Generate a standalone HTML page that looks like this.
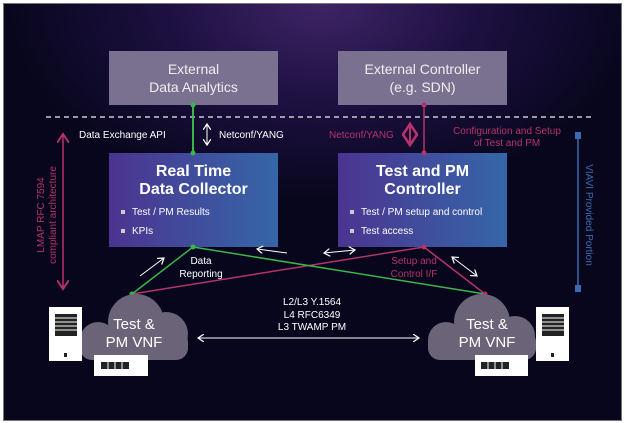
<!DOCTYPE html><html><head><style>
body{margin:0;background:#fff;width:625px;height:423px;overflow:hidden;font-family:"Liberation Sans",sans-serif}
#f{position:absolute;left:3px;top:3px;width:617px;height:416px;background:radial-gradient(ellipse 320px 200px at 318px 0px,#3e2466 0%,#1c1040 50%,#07061c 100%);border:1px solid #777;}
.b{position:absolute;text-align:center;color:#fff}
.ext{background:#7a7090;color:#eee;font-size:14px;line-height:18px;padding-top:9px;box-sizing:border-box}
.blue{background:linear-gradient(90deg,#4b3490,#3566a8);box-sizing:border-box}
.t{font-weight:bold;font-size:16px;line-height:18px;padding-top:10px}
.li{position:absolute;left:12px;font-size:10px;text-align:left}
.li:before{content:"";display:inline-block;width:4px;height:4px;background:#ccc;margin-right:7px;vertical-align:1px}
.s{position:absolute;font-size:10px;color:#fff;white-space:nowrap}
.p{color:#b5336a}
</style></head><body>
<div id="f"></div>
<div class="b ext" style="left:109px;top:51px;width:169px;height:54px">External<br>Data Analytics</div>
<div class="b ext" style="left:338px;top:51px;width:169px;height:54px">External Controller<br>(e.g. SDN)</div>
<div class="b blue" style="left:109px;top:153px;width:169px;height:94px"><div class="t">Real Time<br>Data Collector</div><div class="li" style="top:54px">Test / PM Results</div><div class="li" style="top:73px">KPIs</div></div>
<div class="b blue" style="left:338px;top:153px;width:169px;height:94px"><div class="t">Test and PM<br>Controller</div><div class="li" style="top:54px">Test / PM setup and control</div><div class="li" style="top:73px">Test access</div></div>
<svg width="625" height="423" style="position:absolute;left:0;top:0">
<defs><marker id="w" markerWidth="8" markerHeight="8" refX="6" refY="4" orient="auto-start-reverse"><path d="M0,0L6,4L0,8" fill="none" stroke="#fff" stroke-width="1.2"/></marker>
<marker id="pk" markerWidth="8" markerHeight="8" refX="6" refY="4" orient="auto-start-reverse"><path d="M0,0L6,4L0,8" fill="none" stroke="#b5336a" stroke-width="1.3"/></marker></defs>
<line x1="46" y1="117" x2="592" y2="117" stroke="#ccc" stroke-width="1.5" stroke-dasharray="5,4"/>
<line x1="193" y1="105" x2="193" y2="153" stroke="#3ab54a" stroke-width="2"/>
<line x1="424" y1="105" x2="424" y2="153" stroke="#b5336a" stroke-width="1.5"/>
<circle cx="193" cy="105" r="2.5" fill="#3ab54a"/><circle cx="193" cy="153" r="2.5" fill="#3ab54a"/>
<circle cx="424" cy="105" r="2.5" fill="#b5336a"/><circle cx="424" cy="153" r="2.5" fill="#b5336a"/>
<line x1="207" y1="124" x2="207" y2="145" stroke="#fff" marker-start="url(#w)" marker-end="url(#w)"/>
<line x1="410" y1="124" x2="410" y2="145" stroke="#b5336a" stroke-width="2" marker-start="url(#pk)" marker-end="url(#pk)"/>
<line x1="63" y1="134" x2="63" y2="289" stroke="#b5336a" stroke-width="1.5" marker-start="url(#pk)" marker-end="url(#pk)"/>
<line x1="578" y1="135" x2="578" y2="288" stroke="#3a6ab0" stroke-width="1.5"/>
<rect x="575" y="132" width="6" height="7" fill="#3a6ab0"/><rect x="575" y="285" width="6" height="7" fill="#3a6ab0"/>
<line x1="424" y1="247" x2="132" y2="294" stroke="#b5336a" stroke-width="1.5"/>
<line x1="424" y1="247" x2="485" y2="294" stroke="#b5336a" stroke-width="1.5"/>
<line x1="193" y1="247" x2="132" y2="294" stroke="#3ab54a" stroke-width="1.5"/>
<line x1="193" y1="247" x2="485" y2="294" stroke="#3ab54a" stroke-width="1.5"/>
<circle cx="193" cy="247" r="2.5" fill="#3ab54a"/><circle cx="132" cy="294" r="2.5" fill="#3ab54a"/>
<circle cx="424" cy="247" r="2.5" fill="#b5336a"/><circle cx="485" cy="294" r="2.5" fill="#b5336a"/>
<line x1="140" y1="276" x2="164" y2="258" stroke="#fff" marker-end="url(#w)"/>
<line x1="287" y1="253" x2="257" y2="249" stroke="#fff" marker-end="url(#w)"/>
<line x1="324" y1="253" x2="355" y2="250" stroke="#fff" marker-start="url(#w)" marker-end="url(#w)"/>
<line x1="452" y1="257" x2="477" y2="276" stroke="#fff" marker-start="url(#w)" marker-end="url(#w)"/>
<line x1="198" y1="338" x2="419" y2="338" stroke="#fff" marker-start="url(#w)" marker-end="url(#w)"/>
<g fill="#6b6478">
<circle cx="136" cy="322" r="28"/><circle cx="98" cy="340" r="18"/><circle cx="166" cy="334" r="22"/><rect x="80" y="330" width="108" height="30" rx="12"/>
<circle cx="482" cy="322" r="28"/><circle cx="446" cy="340" r="18"/><circle cx="515" cy="336" r="20"/><rect x="428" y="330" width="108" height="30" rx="12"/>
</g>
<g fill="#fff">
<rect x="49" y="307" width="33" height="54"/><rect x="536" y="307" width="33" height="54"/>
<rect x="94" y="355" width="54" height="21"/><rect x="475" y="355" width="53" height="21"/>
</g>
<g fill="#222">
<rect x="55" y="314" width="22" height="22"/><rect x="542" y="314" width="22" height="22"/>
<rect x="64" y="353" width="3" height="4"/><rect x="551" y="353" width="3" height="4"/>
<rect x="101" y="362" width="28" height="7"/><rect x="481" y="362" width="28" height="7"/>
</g>
<g stroke="#fff" stroke-width="1"><line x1="55" y1="318" x2="77" y2="318"/><line x1="55" y1="322" x2="77" y2="322"/><line x1="55" y1="326" x2="77" y2="326"/><line x1="55" y1="330" x2="77" y2="330"/>
<line x1="542" y1="318" x2="564" y2="318"/><line x1="542" y1="322" x2="564" y2="322"/><line x1="542" y1="326" x2="564" y2="326"/><line x1="542" y1="330" x2="564" y2="330"/>
<line x1="108" y1="362" x2="108" y2="369"/><line x1="115" y1="362" x2="115" y2="369"/><line x1="122" y1="362" x2="122" y2="369"/>
<line x1="488" y1="362" x2="488" y2="369"/><line x1="495" y1="362" x2="495" y2="369"/><line x1="502" y1="362" x2="502" y2="369"/></g>
<text transform="translate(44,215) rotate(-90)" fill="#b5336a" font-size="10" text-anchor="middle">LMAP RFC 7594</text>
<text transform="translate(56,215) rotate(-90)" fill="#b5336a" font-size="10" text-anchor="middle">compliant architecture</text>
<text transform="translate(586,215) rotate(90)" fill="#3a6ab0" font-size="10" text-anchor="middle">VIAVI Provided Portion</text>
</svg>
<div class="s" style="left:79px;top:130px">Data Exchange API</div>
<div class="s" style="left:219px;top:130px">Netconf/YANG</div>
<div class="s p" style="left:329px;top:130px">Netconf/YANG</div>
<div class="s p" style="left:447px;top:126px;width:120px;text-align:center;line-height:12px">Configuration and Setup<br>of Test and PM</div>
<div class="s" style="left:171px;top:255px;width:60px;text-align:center;line-height:13px">Data<br>Reporting</div>
<div class="s p" style="left:384px;top:255px;width:60px;text-align:center;line-height:13px">Setup and<br>Control I/F</div>
<div class="s" style="left:262px;top:297px;width:100px;text-align:center;line-height:12.5px">L2/L3 Y.1564<br>L4 RFC6349<br>L3 TWAMP PM</div>
<div class="b" style="left:84px;top:316px;width:100px;font-size:15px;line-height:18px">Test &amp;<br>PM VNF</div>
<div class="b" style="left:437px;top:316px;width:100px;font-size:15px;line-height:18px">Test &amp;<br>PM VNF</div>
</body></html>
